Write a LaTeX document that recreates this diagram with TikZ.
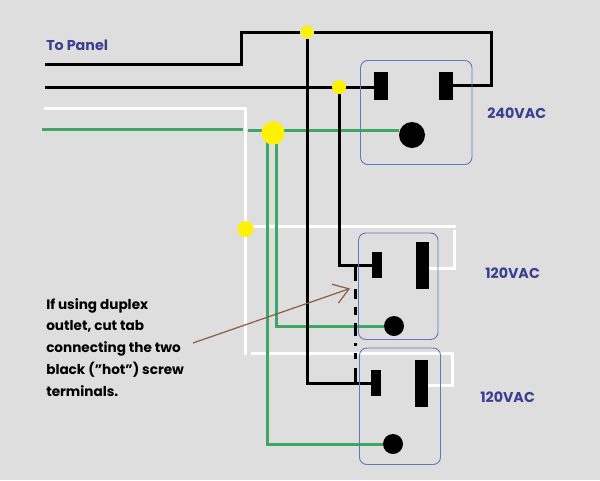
\documentclass[tikz,border=0pt]{standalone}
\usepackage{fontspec}
\setmainfont{Poppins}
\usetikzlibrary{arrows.meta}
\pgfdeclarelayer{wires}
\pgfsetlayers{wires,main}
\definecolor{bgc}{HTML}{DEDEDE}
\definecolor{wgreen}{HTML}{3FA766}
\definecolor{lblue}{HTML}{3B3F92}
\definecolor{oline}{HTML}{6079BE}
\definecolor{brn}{HTML}{8E5B4A}
\tikzset{
  blackw/.style={draw=black,line width=2.25pt,line join=miter},
  whitew/.style={draw=white,line width=2.25pt,line join=miter},
  greenw/.style={draw=wgreen,line width=2.25pt,line join=miter},
  blade/.style={fill=black,inner sep=0pt,minimum width=#1},
  blade/.default=10.5pt,
  gnd/.style={circle,fill=black,inner sep=0pt,minimum size=#1},
  dot/.style={circle,fill=yellow,inner sep=0pt,minimum size=#1},
  plate/.style={draw=oline,line width=0.7pt,rounded corners=5.5pt},
  lbl/.style={text=lblue,font=\fontsize{10.7pt}{12pt}\bfseries\selectfont,inner sep=0pt},
  note/.style={text=black,font=\fontsize{10.2pt}{16.3pt}\bfseries\selectfont,inner sep=0pt,align=left,anchor=north west}
}
\begin{document}
\begin{tikzpicture}[x=0.75pt,y=-0.75pt]
\useasboundingbox (0,0) rectangle (600,480);
\begin{pgfonlayer}{wires}
\fill[bgc] (0,0) rectangle (600,480);
\end{pgfonlayer}
% plates
\draw[plate] (360.5,60.5) rectangle (472,164.5);
\draw[plate] (358.5,233) rectangle (438,339.5);
\draw[plate] (359.5,348) rectangle (440.5,464.5);
% blades and ground pins
\node[blade,minimum height=21pt] (a1) at (381,86) {};
\node[blade,minimum height=21pt] (a2) at (446,86) {};
\node[gnd=19.5pt] (ga) at (412,135) {};
\node[blade=7.2pt,minimum height=19.5pt] (b1) at (376.8,265) {};
\node[blade=9.8pt,minimum height=35.5pt] (b2) at (422.5,265.5) {};
\node[gnd=15pt] (gb) at (394,326) {};
\node[blade=7.2pt,minimum height=19.5pt] (c1) at (375.7,383) {};
\node[blade=9.8pt,minimum height=35.5pt] (c2) at (421.5,383.5) {};
\node[gnd=15pt] (gc) at (393,444) {};
% junctions
\node[dot=9.8pt] (j1) at (307,32) {};
\node[dot=10.5pt] (j2) at (339,87) {};
\node[dot=17.5pt] (j3) at (273,133) {};
\node[dot=12pt] (j4) at (245.5,229) {};
% free ends and bends
\coordinate (p1) at (45,64);
\coordinate (p2) at (45,87);
\coordinate (p3) at (44,108);
\coordinate (p4) at (42,129.5);
\coordinate (g1) at (247.5,130.5);
\coordinate (g2) at (267.5,133);
\coordinate (g3) at (276,133);
\coordinate (w1) at (251,226.5);
\coordinate (w2) at (454.5,230);
\coordinate (w3) at (454.5,268);
\coordinate (w4) at (251,353.5);
\coordinate (w5) at (452.5,385.5);
\begin{pgfonlayer}{wires}
% white
\draw[whitew] (p3) -- (245.5,108) -- (j4);
\draw[whitew] (j4) -- (245.5,354.5);
\draw[whitew] (w1) -- (455.5,226.5);
\draw[whitew] (w2) -- (w3) -- (w3 -| b2.east);
\draw[whitew] (w4) -| (w5) -- (w5 -| c2.east);
% green
\draw[greenw] (p4) -- (243,129.5);
\draw[greenw] (g1) -- (g1 -| ga.west);
\draw[greenw] (g2) |- (gc.west);
\draw[greenw] (g3) |- (gb.west);
% black
\draw[blackw] (p1) -| (241.5,32) -- (j1);
\draw[blackw] (j1) -| (491,85.5) -- (a2.east |- 0,85.5);
\draw[blackw] (p2) -- (p2 -| a1.west);
\draw[blackw] (j1) |- (c1.west);
\draw[blackw] (j2) |- (b1.west);
\draw[blackw,dash pattern=on 12.75pt off 6pt on 7.5pt off 6pt on 6pt off 6pt on 9.75pt off 5.25pt on 2.25pt off 5.25pt on 4.5pt off 6.75pt on 12pt] (355.8,264) -- (355.8,384);
\end{pgfonlayer}
% note arrow
\coordinate (n1) at (193,343);
\coordinate (n2) at (350,288.5);
\draw[brn,line width=0.9pt,-{Straight Barb[length=11pt,width=15pt]}] (n1) -- (n2);
% labels
\node[lbl,anchor=west] (t1) at (46,45) {To Panel};
\node[lbl,anchor=west] (t2) at (487,113) {240VAC};
\node[lbl,anchor=west] (t3) at (485,273) {120VAC};
\node[lbl,anchor=west] (t4) at (480,397) {120VAC};
\node[note] (t5) at (46,298) {If using duplex\\outlet, cut tab\\connecting the two\\black ({\char34}hot{\char34}) screw\\terminals.};
\end{tikzpicture}
\end{document}
